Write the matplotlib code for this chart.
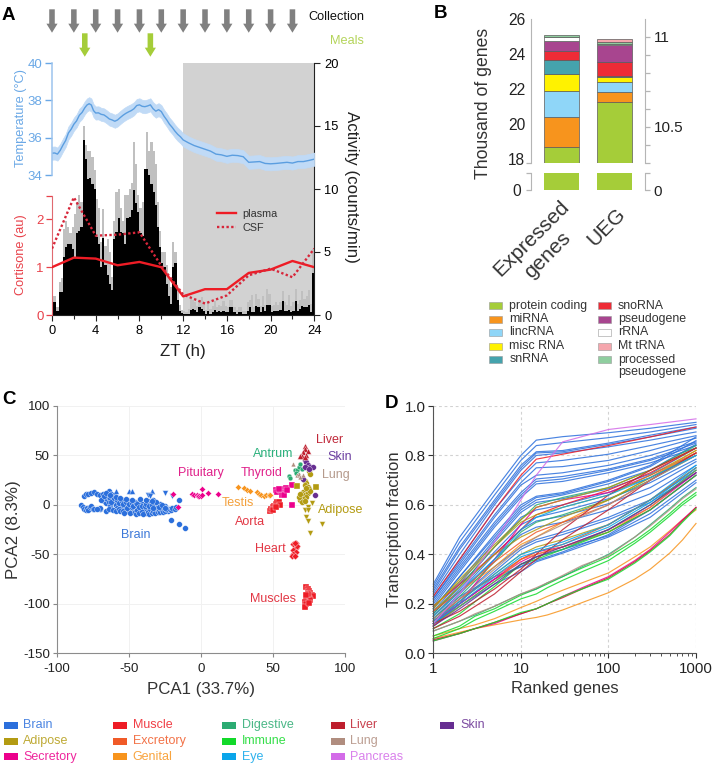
import numpy as np
import matplotlib
matplotlib.use("Agg")
import matplotlib.pyplot as plt
from matplotlib.patches import Rectangle
from matplotlib.ticker import NullFormatter
from matplotlib.transforms import ScaledTranslation

plt.rcParams['font.family'] = ['Liberation Sans', 'DejaVu Sans']
plt.rcParams['axes.unicode_minus'] = False
W, H = 713, 768

# ---------- Panel A data ----------
collection_zt = [0, 2, 4, 6, 8, 10, 12, 14, 16, 18, 20, 22]
meal_zt = [3, 9]
activity_mean = [
    1.0, 1.0, .3, 1.85, 1.85, 4.6, 5.4, 5.6, 5.6, 5.2,
    4.6, 6.5, 6.7, 7.0, 13.9, 12.4, 10.8, 10.9, 10.4, 10.0,
    6.2, 5.6, 3.8, 6.1, 4.0, 3.2, 2.5, 2.0, 6.0, 6.6,
    7.7, 6.6, 6.5, 5.6, 7.7, 7.8, 8.3, 9.9, 8.9, 8.2,
    6.5, 6.3, 11.6, 11.6, 11.1, 10.4, 9.8, 8.7, 7.0, 5.4,
    4.1, 3.8, 2.5, 1.5, .9, 3.8, 4.1, 1.2, .3, .15,
    .1, .1, .1, .4, .5, .4, .2, .6, .5, .3,
    .1, .3, .1, .2, .4, .2, .3, .2, .3, .2,
    .2, .6, .6, .2, .1, .2, .2, .1, .1, .3,
    .6, .2, .2, .7, .6, .2, .6, .3, .8, .8,
    .2, .3, .3, .3, .4, 1.1, .3, .3, .4, .2,
    .3, 1.1, .3, .5, .7, .6, .6, .8, .2, 3.3]
activity_upper = [
    1.5, 1.5, .6, 2.6, 2.9, 6.8, 7.5, 7.0, 6.5, 7.0,
    8.0, 9.0, 9.5, 9.0, 15.0, 13.5, 13.0, 13.0, 12.5, 11.5,
    9.2, 8.5, 5.8, 8.4, 5.5, 6.0, 5.0, 3.0, 7.5, 9.8,
    10.0, 8.5, 7.5, 9.5, 9.5, 10.0, 10.5, 13.7, 12.0, 9.5,
    8.5, 9.0, 11.0, 14.5, 13.0, 13.7, 13.0, 12.0, 9.0, 6.7,
    5.0, 5.0, 4.0, 3.0, 2.2, 5.8, 5.0, 2.2, .8, .4,
    .3, .2, .5, 1.3, 1.2, 1.0, .7, 1.2, 1.4, 1.0,
    .4, 1.0, .5, .7, 1.1, .6, .8, .7, 1.1, .7,
    .6, 1.2, 1.2, .6, .4, .6, .6, .3, .3, 1.0,
    1.2, 1.6, .6, 1.7, 1.3, .7, 1.5, .8, 2.1, 1.7,
    .7, .8, 1.0, .8, 1.0, 1.9, 1.0, .8, 1.6, .7,
    1.0, 2.1, .9, 1.2, 1.9, 1.3, 1.5, 2.0, .9, 5.2]
temp_zt = [0, .25, .5, .75, 1, 1.25, 1.5, 1.75, 2, 2.25, 2.5, 2.75, 3, 3.2, 3.4, 3.6, 3.8, 4, 4.25, 4.5, 4.75, 5,
           5.25, 5.5, 5.75, 6, 6.25, 6.5, 6.75, 7, 7.25, 7.5, 7.75, 8, 8.25, 8.5, 8.75, 9, 9.25, 9.5, 9.75, 10,
           10.25, 10.5, 10.75, 11, 11.25, 11.5, 11.75, 12, 12.5, 13, 13.5, 14, 14.5, 15, 15.5, 16, 16.5, 17,
           17.5, 18, 18.5, 19, 19.5, 20, 20.5, 21, 21.5, 22, 22.5, 23, 23.5, 24]
temp_c = [35.17, 35.18, 35.12, 35.32, 35.6, 35.85, 36.25, 36.45, 36.72, 36.9, 37.2, 37.35, 37.6, 37.75, 37.82, 37.75,
          37.45, 37.32, 37.33, 37.25, 37.22, 37.12, 37.0, 36.95, 36.88, 36.95, 37.08, 37.2, 37.3, 37.38, 37.45, 37.55,
          37.72, 37.76, 37.68, 37.66, 37.7, 37.76, 37.55, 37.42, 37.5, 37.4, 37.15, 36.95, 36.72, 36.55, 36.35, 36.18,
          36.05, 35.88, 35.72, 35.58, 35.48, 35.38, 35.28, 35.12, 35.08, 35.0, 35.06, 35.04, 34.98, 34.68, 34.7, 34.72,
          34.62, 34.6, 34.62, 34.65, 34.68, 34.64, 34.72, 34.72, 34.78, 34.85]
temp_err = 0.35
cort_zt = [0, 2, 4, 6, 8, 10, 12, 14, 16, 18, 20, 22, 24]
cort_plasma = [1.0, 1.2, 1.18, 1.04, 1.11, 1.0, .39, .54, .54, .88, .95, 1.13, 1.0]
cort_csf = [1.39, 2.46, 1.66, 1.68, 1.73, 1.03, .43, .24, .41, .83, .97, .79, 1.39]

# ---------- Panel B data ----------
gene_types = ['protein coding', 'miRNA', 'lincRNA', 'misc RNA', 'snRNA', 'snoRNA',
              'pseudogene', 'rRNA', 'Mt tRNA', 'processed\npseudogene']
gene_colors = ['#a5cd39', '#f7941d', '#8fd6f8', '#fff200', '#45a3ad', '#ee2b36',
               '#a8458f', '#ffffff', '#f5a6ad', '#8fce9f']
expressed_tops = [18.69, 20.37, 21.87, 22.86, 23.65, 24.2, 24.74, 24.97, 24.97, 25.1]
ueg_tops = [10.639, 10.691, 10.748, 10.774, 10.783, 10.857, 10.956, 10.961, 10.985, 10.972]
bar_names = ['Expressed\ngenes', 'UEG']

# ---------- Panel C data ----------
brain_xy = [(-83,0),(-82,-2),(-81,-4),(-80,-5),(-79,-3),(-78,-5),(-77,-2),(-76,-1),(-75,-4),(-74,-4),(-70,-4),
 (-81,9),(-80,11),(-78,11),(-76,12),(-74,13),(-72,11),(-70,10),(-68,11),(-65,12),(-64,14),(-62,11),(-60,10),
 (-68,7),(-67,4),(-66,2),(-65,6),(-64,3),(-63,-1),(-62,-4),(-61,6),(-60,3),(-59,0),(-58,-3),(-57,6),(-56,3),
 (-55,-1),(-54,5),(-53,2),(-52,-2),(-51,-6),(-50,4),(-49,0),(-48,-4),(-47,-7),(-46,3),(-45,0),(-44,-3),(-43,-6),
 (-42,3),(-41,1),(-40,-2),(-39,-5),(-38,-8),(-37,4),(-36,1),(-35,-2),(-34,-6),(-33,5),(-32,2),(-31,-1),(-30,-4),
 (-29,-7),(-28,1),(-27,-2),(-26,-5),(-25,-1),(-24,-3),(-23,-6),(-22,-4),(-21,-5),(-20,-3),(-18,-4),
 (-66,-6),(-64,-4),(-61,-5),(-59,-6),(-57,-4),(-56,-6),(-54,-6),(-53,-8),(-51,-3),(-49,-8),(-48,-2),(-46,-7),
 (-45,-9),(-44,-5),(-43,-8),(-41,-6),(-40,-9),(-38,-3),(-37,-7),(-36,-9),(-35,-4),(-34,-8),(-33,-6),(-32,-8),
 (-31,-3),(-30,-7),(-29,-5),(-28,-7),(-27,-5),(-26,-7),(-25,-6),(-24,-4),(-65,9),(-63,7),(-62,3),(-60,7),(-58,5),
 (-57,2),(-55,4),(-54,1),(-52,3),(-50,1),(-48,2),(-47,-1),(-45,2),(-44,1),(-43,-2),(-41,-1),(-39,-1),(-38,1),
 (-36,-1),(-34,0),(-33,-3),(-31,3),(-29,-2),(-27,0),(-25,-3),(-15,5),(-21,-15),(-15,-19),(-11,-23),(-17,-2),
 (-69,5),(-67,9),(-66,12),(-63,10),(-59,8),(-56,7),(-52,6),(-48,5),(-42,6),(-38,5),(-34,4),(-70,-3),(-72,-4)]
brain_up = [(-59,14),(-50,14),(-48,14),(-34,14)]
brain_down = [(-37,10),(-35,9),(-25,12),(-20,9)]
pituitary_xy = [(-19,11),(-16,-2),(-6,11),(-5,10),(-3,10),(-2,9),(-1,9),(0,9),(1,10),(1,16),(5,12),(12,11)]
testis_xy = [(26,18),(30,17),(32,15),(34,14),(39,13),(40,11),(42,10),(44,9),(45,10),(47,10),(48,10)]
thyroid_xy = [(52,15),(53,13),(55,15),(57,16),(59,17),(63,20),(63,0),(58,12),(56,10),(58,10),(54,16),(60,15)]
aorta_xy = [(48,-6),(49,-4),(50,-2),(51,-1),(52,1),(53,3),(54,3),(55,0),(50,-5),(52,-2)]
heart_xy = [(64,-40),(65,-42),(66,-44),(64,-46),(66,-48),(64,-50),(63,-52),(65,-52),(66,-38),(67,-42),(65,-38)]
muscle_xy = [(73,-83),(74,-85),(75,-87),(76,-89),(77,-91),(78,-92),(75,-94),(73,-96),(76,-96),(72,-98),(73,-100),
             (72,-103),(74,-90),(73,-91),(75,-99)]
liver_xy = [(72,60),(72,57),(71,54),(74,55),(73,50),(70,49),(69,49),(72,48)]
skin_xy = [(72,45),(73,43),(74,40),(76,38),(78,38),(72,38),(75,36),(79,10),(71,26)]
lung_xy = [(64,41),(67,30),(68,31),(71,30),(69,28)]
antrum_xy = [(65,35),(67,35),(68,38),(69,41),(70,36),(66,32),(61,29),(62,27)]
adipose_c = [(72,24),(73,22),(72,20),(74,18),(75,16),(73,14),(71,13),(70,11),(72,10),(74,12),(76,14),(73,8),(71,6),
             (69,5),(70,3),(72,4),(68,8),(69,11),(73,17),(75,34),(76,31)]
adipose_s = [(67,19),(80,18)]
adipose_v = [(74,-2),(72,-5),(74,-5),(77,2),(73,-12),(74,-16),(84,-19),(76,-28)]

# ---------- Panel D data ----------
ranks = [1, 2, 5, 10, 15, 30, 100, 300, 1000]
curves = {
 'Brain': [[.28,.47,.66,.80,.862,.876,.892,.91,.934],[.27,.45,.64,.78,.84,.852,.872,.895,.925],
  [.26,.43,.62,.76,.815,.82,.85,.882,.915],[.25,.42,.61,.75,.81,.815,.845,.875,.91],
  [.24,.40,.60,.74,.80,.81,.835,.862,.895],[.23,.38,.58,.71,.77,.78,.805,.84,.88],
  [.22,.37,.56,.69,.75,.755,.78,.82,.87],[.22,.36,.55,.68,.72,.73,.76,.80,.855],
  [.21,.35,.53,.65,.705,.715,.745,.785,.85],[.20,.34,.52,.64,.695,.705,.74,.78,.84],
  [.19,.33,.51,.63,.685,.695,.73,.77,.83],[.18,.31,.48,.60,.635,.65,.70,.76,.875],
  [.18,.31,.47,.59,.63,.645,.695,.755,.86],[.17,.29,.46,.58,.62,.64,.685,.74,.845],
  [.16,.28,.45,.57,.61,.625,.665,.725,.83],[.16,.27,.43,.55,.58,.60,.65,.71,.80],
  [.15,.26,.41,.52,.55,.575,.625,.69,.785],[.15,.25,.40,.50,.535,.555,.605,.67,.775],
  [.14,.24,.38,.48,.51,.53,.58,.645,.76],[.13,.22,.35,.43,.46,.49,.55,.62,.74],
  [.12,.21,.33,.42,.45,.48,.54,.61,.73],[.12,.20,.30,.35,.39,.42,.475,.565,.70],
  [.11,.19,.28,.33,.37,.405,.47,.55,.69],[.14,.23,.31,.35,.375,.41,.48,.58,.72]],
 'Muscle': [[.23,.38,.58,.72,.785,.805,.84,.875,.915],[.19,.28,.40,.50,.56,.60,.66,.73,.83]],
 'Secretory': [[.13,.20,.38,.52,.59,.62,.65,.72,.81],[.12,.20,.30,.38,.41,.43,.49,.58,.72],
  [.11,.20,.30,.37,.40,.43,.50,.59,.73]],
 'Genital': [[.15,.25,.35,.44,.47,.53,.62,.71,.82],[.11,.19,.29,.38,.40,.43,.49,.59,.74]],
 'Immune': [[.10,.16,.27,.36,.38,.42,.49,.58,.72]],
 'Digestive': [[.14,.23,.37,.49,.53,.56,.62,.70,.80],[.16,.27,.43,.54,.60,.63,.67,.74,.84],
  [.12,.19,.29,.36,.39,.42,.50,.60,.74]],
 'Adipose': [[.19,.29,.43,.53,.56,.59,.64,.72,.82],[.18,.30,.44,.54,.59,.62,.67,.74,.83],
  [.17,.27,.40,.47,.50,.55,.62,.71,.81],[.13,.21,.32,.40,.43,.46,.52,.62,.75]],
 'Excretory': [[.13,.22,.31,.38,.41,.44,.52,.62,.75],[.17,.25,.37,.45,.49,.53,.60,.70,.81]],
 'Liver': [[.12,.17,.26,.34,.40,.50,.64,.74,.83],[.10,.15,.24,.33,.38,.46,.58,.70,.81]],
 'Lung': [[.14,.22,.34,.43,.47,.52,.60,.70,.80]],
 'Eye': [[.12,.20,.31,.39,.41,.44,.51,.61,.75],[.13,.21,.32,.40,.42,.45,.52,.62,.76],
  [.15,.25,.38,.50,.55,.59,.64,.71,.80]],
 'Pancreas': [[.12,.24,.45,.62,.72,.855,.905,.925,.948]],
 'Skin': [[.11,.18,.28,.36,.39,.43,.50,.60,.73]],
}
low_ranks = [1, 2, 3, 5, 10, 15, 20, 30, 50, 100, 200, 300, 500, 700, 1000]
low_curves = [
 ('Genital',  [.06,.085,.10,.115,.135,.145,.155,.175,.205,.245,.30,.34,.405,.458,.525]),
 ('Genital',  [.07,.10,.115,.14,.185,.21,.23,.255,.285,.325,.39,.43,.495,.54,.58]),
 ('Secretory',[.05,.08,.10,.12,.16,.18,.20,.23,.265,.31,.375,.42,.49,.54,.59]),
 ('Liver',    [.055,.08,.10,.125,.16,.18,.20,.225,.26,.305,.37,.415,.48,.535,.59]),
 ('Immune',   [.05,.08,.10,.125,.165,.18,.20,.23,.26,.30,.365,.41,.475,.53,.585]),
 ('Immune',   [.07,.11,.15,.18,.235,.26,.28,.31,.345,.39,.455,.50,.565,.61,.65]),
 ('Immune',   [.06,.10,.135,.17,.22,.24,.265,.295,.33,.375,.445,.49,.555,.60,.64]),
 ('Digestive',[.09,.13,.155,.19,.24,.26,.285,.31,.35,.40,.47,.52,.585,.63,.67]),
 ('Lung',     [.09,.13,.16,.19,.24,.265,.285,.315,.355,.395,.47,.515,.58,.625,.665]),
]
tissue_colors = {'Brain': '#2b6fdc', 'Adipose': '#b39b12', 'Secretory': '#ec008c', 'Muscle': '#ee1c25',
                 'Excretory': '#f05a28', 'Genital': '#f7941d', 'Digestive': '#2bab72', 'Immune': '#12d92a',
                 'Eye': '#0aa5ea', 'Liver': '#be1e2d', 'Lung': '#b08d7f', 'Pancreas': '#d36be8', 'Skin': '#662d91'}
legend_cols = [['Brain', 'Adipose', 'Secretory'], ['Muscle', 'Excretory', 'Genital'],
               ['Digestive', 'Immune', 'Eye'], ['Liver', 'Lung', 'Pancreas'], ['Skin']]

fig = plt.figure(figsize=(W / 100, H / 100), dpi=100)

def px_axes(l, t, r, b, **kw):
    return fig.add_axes([l / W, 1 - b / H, (r - l) / W, (b - t) / H], **kw)

# ---------- Panel A ----------
A_L, A_R, A_T, A_B = 52, 314.3, 63, 315
ax = px_axes(A_L, A_T, A_R, A_B)
ax.set_xlim(0, 24)
ax.set_ylim(0, 20)
ax.axvspan(12, 24, color='#d2d2d2', lw=0, zorder=0)
bins = np.arange(len(activity_mean)) * 0.2
ax.bar(bins, activity_upper, width=0.2, align='edge', color='#c0c0c0', lw=0, zorder=1)
ax.bar(bins, activity_mean, width=0.2, align='edge', color='black', lw=0, zorder=2)

tax = ax.twinx()
cax = ax.twinx()

ax.yaxis.tick_right()
ax.yaxis.set_label_position('right')
ax.set_yticks([0, 5, 10, 15, 20])
ax.set_xticks(range(0, 25, 4))
ax.set_xticks(range(2, 25, 4), minor=True)
ax.tick_params(axis='both', which='major', labelsize=9.3, length=4.5, width=0.8, color='#222', pad=2.5)
ax.tick_params(axis='x', which='minor', length=3, width=0.8, color='#222')
for s in ['top', 'left']:
    ax.spines[s].set_visible(False)
ax.spines['right'].set_color('#222')
ax.spines['bottom'].set_color('#222')
ax.set_xlabel('ZT (h)', fontsize=12.2, color='#222', labelpad=5)
ax.set_ylabel('Activity (counts/min)', fontsize=12.2, rotation=270, color='#222')
ax.yaxis.set_label_coords(1.172, 0.508)

tax.set_ylim(34 - (A_B - 175) / 18.67, 40)
tax.fill_between(temp_zt, np.array(temp_c) - temp_err, np.array(temp_c) + temp_err, color='#c0daf6', lw=0.5, zorder=1)
tax.plot(temp_zt, temp_c, color='#5b9ee0', lw=1, zorder=2)
tax.yaxis.tick_left()
tax.yaxis.set_label_position('left')
tax.set_yticks([34, 36, 38, 40])
tax.tick_params(axis='y', colors='#6aa8e6', labelsize=9.5, length=5, width=1, pad=2)
for s in ['top', 'right', 'bottom']:
    tax.spines[s].set_visible(False)
tax.spines['left'].set_color('#9cc4ee')
tax.spines['left'].set_linewidth(1.1)
tax.spines['left'].set_bounds(34, 40)
tax.set_ylabel('Temperature (°C)', fontsize=9.2, color='#6aa8e6')
tax.yaxis.set_label_coords(-0.097, 0.78)

cax.set_ylim(0, (A_B - A_T) / 47.8)
l1, = cax.plot(cort_zt, cort_plasma, color='#ee1c25', lw=1.7, label='plasma', zorder=3)
l2, = cax.plot(cort_zt, cort_csf, color='#d7263a', lw=1.7, ls=(0, (1, 1)), label='CSF', zorder=3)
cax.yaxis.tick_left()
cax.yaxis.set_label_position('left')
cax.set_yticks([0, 1, 2])
cax.set_yticks([2.5], minor=True)
cax.yaxis.set_minor_formatter(NullFormatter())
cax.tick_params(axis='y', which='both', colors='#e8414a', labelsize=9.5, length=4, width=0.9, pad=2)
for s in ['top', 'right', 'bottom']:
    cax.spines[s].set_visible(False)
cax.spines['left'].set_color('#e06a70')
cax.spines['left'].set_bounds(0, 2.5)
cax.set_ylabel('Cortisone (au)', fontsize=9.2, color='#e8414a')
cax.yaxis.set_label_coords(-0.097, 0.238)
leg = cax.legend(handles=[l1, l2], frameon=False, fontsize=7.8, handlelength=1.75, handletextpad=0.6,
                 labelspacing=0.38, loc='center left', borderpad=0, borderaxespad=0,
                 bbox_to_anchor=(0.628, 0.374))
for t in leg.get_texts():
    t.set_color('#333333')

for z in collection_zt:
    ax.annotate('', xy=(z, H - 32.7), xytext=(z, H - 9.3), xycoords=('data', 'figure pixels'),
                textcoords=('data', 'figure pixels'), annotation_clip=False,
                arrowprops=dict(facecolor='#808080', edgecolor='none', width=4, headwidth=8, headlength=6.5, shrink=0))
for z in meal_zt:
    ax.annotate('', xy=(z, H - 56.7), xytext=(z, H - 33.3), xycoords=('data', 'figure pixels'),
                textcoords=('data', 'figure pixels'), annotation_clip=False,
                arrowprops=dict(facecolor='#a5cd39', edgecolor='none', width=4, headwidth=8, headlength=6.5, shrink=0))

# ---------- Panel B ----------
B_L, B_R = 531.3, 645.3
B_TT, B_TB, B_BT, B_BB = 19.3, 163.3, 173.3, 190.3
bt = px_axes(B_L, B_TT, B_R, B_TB)
bb = px_axes(B_L, B_BT, B_R, B_BB)
bar_x = [0, 1]
x_range = ((B_L - 561.3) / 53, (B_R - 561.3) / 53)
bt.set_xlim(*x_range)
bb.set_xlim(*x_range)
bt.set_ylim(17.74, 26)
bb.set_ylim(0, 3)
br = bt.twinx()
br.set_ylim(10.296, 10.296 + (B_TB - B_TT) / 540 * 3)
bbr = bb.twinx()
bbr.set_ylim(0, 3)
bar_w = 34.7 / 53
prev = 0
for top, c in zip(expressed_tops, gene_colors):
    if top > prev:
        bt.bar(bar_x[0], top - prev, bottom=prev, width=bar_w, color=c, edgecolor='#5a5a5a', lw=0.5)
        bb.bar(bar_x[0], top - prev, bottom=prev, width=bar_w, color=c, edgecolor='none', lw=0)
    prev = top
prev = 0
order = np.argsort(ueg_tops)
for i in order:
    top, c = ueg_tops[i], gene_colors[i]
    if top > prev:
        br.bar(bar_x[1], top - prev, bottom=prev, width=bar_w, color=c, edgecolor='#5a5a5a', lw=0.5)
        bbr.bar(bar_x[1], top - prev, bottom=prev, width=bar_w, color=c, edgecolor='none', lw=0)
    prev = top
gray = '#b5b5b5'
bt.set_yticks([18, 20, 22, 24, 26])
bt.set_yticks([17.74, 26], minor=True)
bt.yaxis.set_minor_formatter(NullFormatter())
bt.tick_params(axis='y', which='major', length=0, labelsize=11.2, pad=4.3, labelcolor='#222')
bt.tick_params(axis='y', which='minor', length=3.5, width=0.9, color=gray)
bt.set_xticks([])
bt.set_ylabel('Thousand of genes', fontsize=12.7, color='#333')
bt.yaxis.set_label_coords(-0.345, 0.419)
br.set_yticks([10.5, 11])
br.set_yticks([10.3, 10.4, 10.6, 10.7, 10.8, 10.9, 11.0], minor=True)
br.yaxis.set_minor_formatter(NullFormatter())
br.set_yticklabels(['10.5', '11'])
br.tick_params(axis='y', which='both', length=3.5, width=0.9, color=gray, labelsize=11, labelcolor='#222', pad=2.5)
br.set_xticks([])
for a in (bt, br):
    for s in ['top', 'bottom']:
        a.spines[s].set_visible(False)
    a.spines['left'].set_color(gray)
    a.spines['right'].set_color(gray)
bt.spines['right'].set_visible(False)
br.spines['left'].set_visible(False)
bb.set_yticks([0, 3])
bb.set_yticklabels(['0', ''])
bb.tick_params(axis='y', length=3.5, width=0.9, color=gray, labelsize=11.2, pad=3.6, labelcolor='#222')
bbr.set_yticks([0, 3])
bbr.set_yticklabels(['0', ''])
bbr.tick_params(axis='y', length=3.5, width=0.9, color=gray, labelsize=11, labelcolor='#222', pad=2.5)
bb.set_xticks(bar_x)
bb.set_xticklabels(bar_names, rotation=45, ha='right', fontsize=15, color='#333', linespacing=1.3, multialignment='center')
bb.tick_params(axis='x', length=0, pad=4.5)
offsets = [(28, 0), (15, -8)]
for lab, (dx, dy) in zip(bb.get_xticklabels(), offsets):
    lab.set_transform(lab.get_transform() + ScaledTranslation(dx / 100, dy / 100, fig.dpi_scale_trans))
for a in (bb, bbr):
    for s in ['top', 'bottom']:
        a.spines[s].set_visible(False)
    a.spines['left'].set_color(gray)
    a.spines['right'].set_color(gray)
bb.spines['right'].set_visible(False)
bbr.spines['left'].set_visible(False)

# ---------- Panel C ----------
ac = px_axes(56.7, 406, 345, 653.3)
ac.set_xlim(-100, 100)
ac.set_ylim(-150, 100)
ac.grid(True, color='#f1f1f1', lw=0.7)
ac.set_axisbelow(True)
ms = 17
tc = tissue_colors
def pts(data, marker, color, size=ms):
    arr = np.array(data)
    ac.scatter(arr[:, 0], arr[:, 1], marker=marker, s=size, color=color, linewidths=0.25, edgecolors='white', zorder=3)
pts(brain_xy, 'o', tc['Brain'])
pts(brain_up, '^', tc['Brain'])
pts(brain_down, 'v', tc['Brain'])
pts(pituitary_xy, 'D', tc['Secretory'], 10)
pts(testis_xy, 'D', tc['Genital'], 10)
pts(thyroid_xy, 's', tc['Secretory'])
pts(aorta_xy, 's', tc['Muscle'])
pts(heart_xy, 'D', tc['Muscle'], 12)
pts(muscle_xy, 's', tc['Muscle'])
pts(adipose_c, 'o', tc['Adipose'])
pts(adipose_s, 's', tc['Adipose'])
pts(adipose_v, 'v', tc['Adipose'])
pts(antrum_xy, 'o', tc['Digestive'], 12)
pts(skin_xy, 'o', tc['Skin'])
pts(lung_xy, '^', tc['Lung'], 12)
pts(liver_xy, '^', tc['Liver'])
ac.set_xticks([-100, -50, 0, 50, 100])
ac.set_yticks([-150, -100, -50, 0, 50, 100])
ac.tick_params(axis='both', labelsize=9.6, length=3, width=0.8, color='#888', labelcolor='#222', pad=2)
ac.tick_params(axis='x', pad=4)
for s in ['top', 'right']:
    ac.spines[s].set_visible(False)
for s in ['left', 'bottom']:
    ac.spines[s].set_color('#8c8c8c')
ac.set_xlabel('PCA1 (33.7%)', fontsize=12.2, color='#333', labelpad=5)
ac.set_ylabel('PCA2 (8.3%)', fontsize=12.2, color='#333', labelpad=1.5)
c_labels = [('Brain', -45, -30, '#3c78d8'), ('Pituitary', 0, 32, '#e0218a'), ('Testis', 26, 2, '#f4a13d'),
            ('Aorta', 34, -17, '#e23744'), ('Thyroid', 42, 32, '#e0218a'), ('Antrum', 50, 51, '#2bb07c'),
            ('Liver', 89, 66, '#c0293a'), ('Skin', 96, 48, '#6b3fa0'), ('Lung', 94, 30, '#b59a8c'),
            ('Adipose', 97, -5, '#b39b12'), ('Heart', 48, -45, '#e23744'), ('Muscles', 50, -95, '#e23744')]
for txt, x, y, col in c_labels:
    ac.text(x, y, txt, color=col, fontsize=9, ha='center', va='center', zorder=4, clip_on=False)

# ---------- Panel D ----------
ad = px_axes(433.3, 406, 696, 653.3)
ad.set_xscale('log')
ad.set_xlim(1, 1000)
ad.set_ylim(0, 1)
ad.grid(True, which='major', color='#d2d2d2', ls=(0, (2.5, 2.5)), lw=0.8)
ad.set_axisbelow(True)
for name, rows in curves.items():
    for row in rows:
        ad.plot(ranks, row, color=tissue_colors[name], lw=0.85, alpha=0.85, clip_on=False, solid_joinstyle='round')
for name, row in low_curves:
    ad.plot(low_ranks, row, color=tissue_colors[name], lw=0.85, alpha=0.85, clip_on=False, solid_joinstyle='round')
ad.set_xticks([1, 10, 100, 1000])
ad.set_xticklabels(['1', '10', '100', '1000'])
ad.set_yticks([0, .2, .4, .6, .8, 1.0])
ad.set_yticklabels(['0.0', '0.2', '0.4', '0.6', '0.8', '1.0'])
ad.tick_params(axis='both', which='major', labelsize=10.9, length=3.5, width=0.8, color='#333', labelcolor='#222', pad=2)
ad.tick_params(axis='x', pad=3)
ad.tick_params(axis='x', which='minor', length=2.5, width=0.6, color='#333')
for s in ['top', 'right']:
    ad.spines[s].set_visible(False)
for s in ['left', 'bottom']:
    ad.spines[s].set_color('#555')
ad.set_xlabel('Ranked genes', fontsize=12, color='#333', labelpad=3.5)
ad.set_ylabel('Transcription fraction', fontsize=12, color='#333', labelpad=1.5)

# ---------- Overlay: letters and legends ----------
ov = fig.add_axes([0, 0, 1, 1], zorder=10)
ov.set_xlim(0, W)
ov.set_ylim(H, 0)
ov.axis('off')
for letter, x, y in [('A', 2, 16), ('B', 434, 14), ('C', 2, 399), ('D', 385, 403)]:
    ov.text(x, y, letter, fontsize=13.5, fontweight='bold', va='center', ha='left', color='black')
ov.text(364, 17.5, 'Collection', fontsize=9.2, ha='right', va='center', color='#111')
ov.text(364, 41.5, 'Meals', fontsize=9.2, ha='right', va='center', color='#b4d45a')

def swatch_rows(names, colors, x_patch, x_text, ys):
    for n, c, y in zip(names, colors, ys):
        ov.add_patch(Rectangle((x_patch, y - 3.5), 13, 7, facecolor=c, edgecolor='#999999', lw=0.4))
        ov.text(x_text, y, n, fontsize=8.9, va='center', ha='left', color='#333', linespacing=1.05)

swatch_rows(gene_types[:5], gene_colors[:5], 489.3, 509.3, [305.7, 319, 332.3, 346, 359.3])
swatch_rows(gene_types[5:], gene_colors[5:], 597.7, 617.7, [305.7, 319, 332.3, 346])
ov.add_patch(Rectangle((597.7, 355.8), 13, 7, facecolor=gene_colors[9], edgecolor='#999999', lw=0.4))
ov.text(617.7, 366, gene_types[9], fontsize=8.9, va='center', ha='left', color='#333', linespacing=1.05)

col_patch = [4, 113, 222, 331, 440]
col_text = [23, 132.7, 242, 350, 460.7]
row_y = [725.3, 741, 756.7]
for col, xp, xt in zip(legend_cols, col_patch, col_text):
    for name, y in zip(col, row_y):
        c = tissue_colors[name]
        ov.add_patch(Rectangle((xp, y - 3.5), 14, 7, facecolor=c, edgecolor='none'))
        ov.text(xt, y, name, fontsize=9, color=c, alpha=0.85, va='center', ha='left')

fig.savefig('out.png', dpi=100)
